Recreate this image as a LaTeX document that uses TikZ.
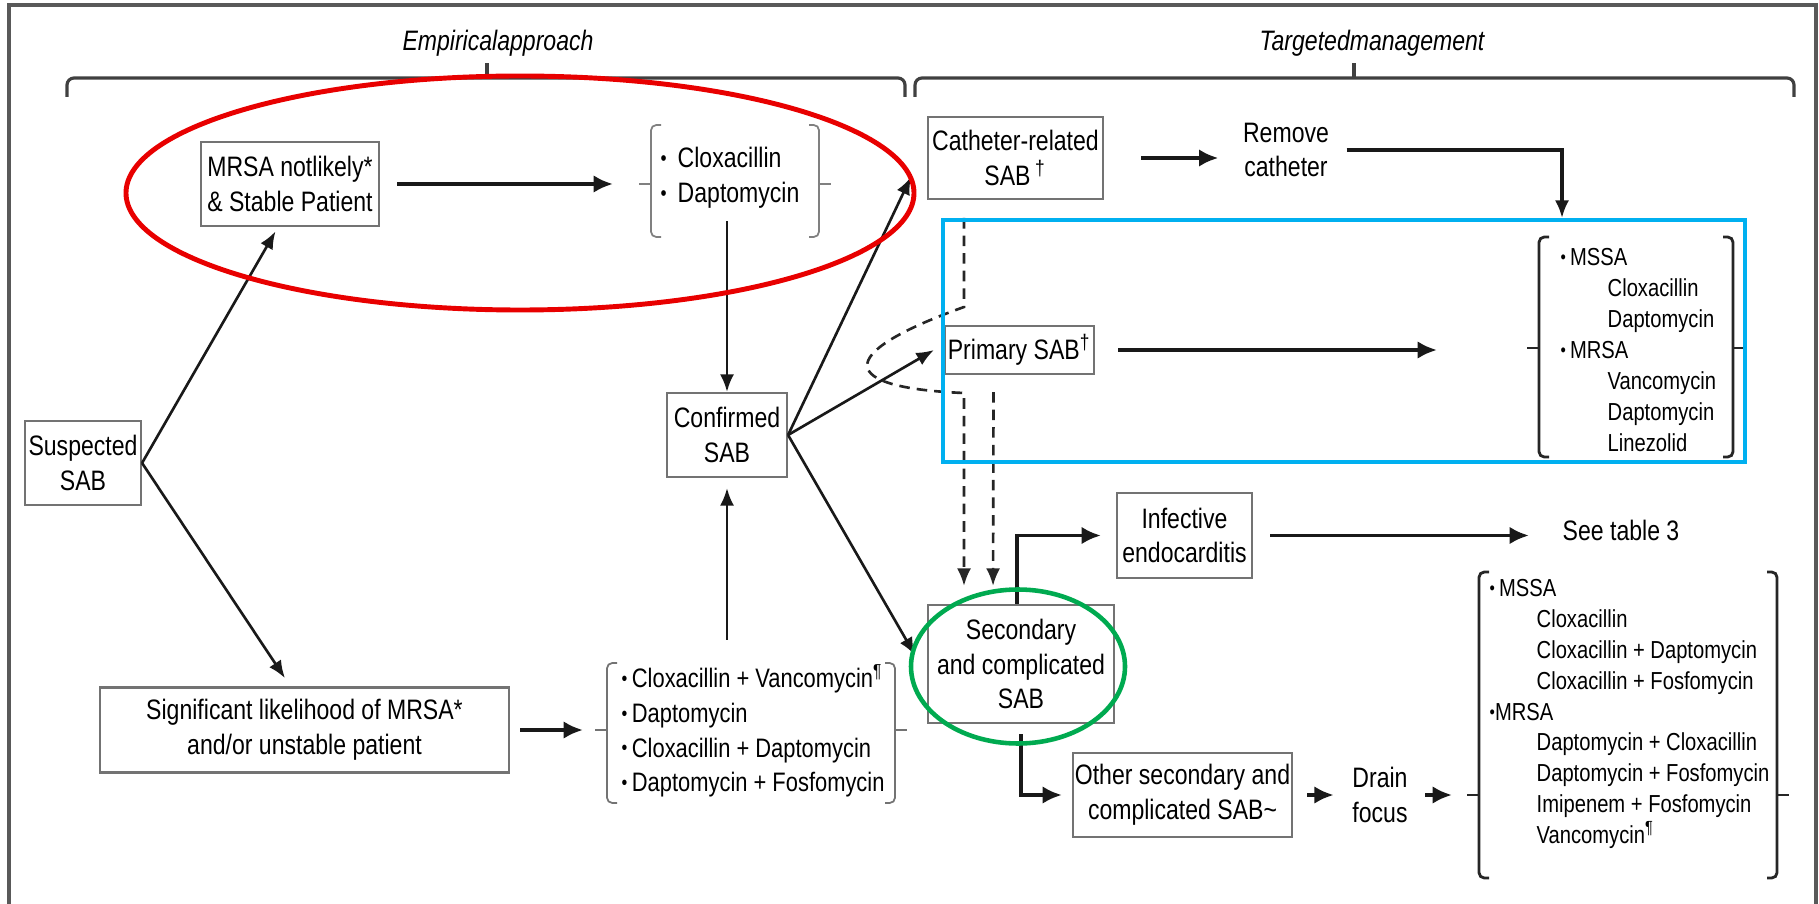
\documentclass[tikz,border=0pt]{standalone}
\usepackage{fontspec}
\usepackage{graphicx}
\setmainfont[FakeStretch=0.82]{Liberation Sans}
\usetikzlibrary{arrows.meta}
\definecolor{markred}{RGB}{232,0,0}
\definecolor{markblue}{RGB}{0,176,240}
\definecolor{markgreen}{RGB}{0,170,80}
\newcommand{\bul}{\raisebox{0.15ex}{\scalebox{0.75}{•}}}
\newcommand{\ind}{\hspace*{0.47cm}}
\tikzset{
  box/.style={draw=black!55, line width=0.6pt, align=center, inner sep=0pt, text=black},
  plain/.style={align=center, inner sep=0pt, text=black},
  arr/.style={-{Latex[length=5pt,width=4pt]}, line width=0.75pt, black!90},
  tharr/.style={-{Latex[length=5.5pt,width=5pt]}, line width=1.1pt, black!90},
  dashline/.style={-{Latex[length=5pt,width=4pt]}, line width=0.75pt, black!85, dash pattern=on 3pt off 2pt},
  brk/.style={rounded corners=1.5pt},
}
\begin{document}
\begin{tikzpicture}[font=\fontsize{8}{9.9}\selectfont]
	\useasboundingbox (0,0) rectangle (18.19,-9.04);
	\draw[line width=1pt, black!65] (0.09,-9.04) -- (0.09,-0.05) -- (18.16,-0.05) -- (18.16,-9.04);

            % headers
            \draw[line width=0.9pt, black!75, rounded corners=2pt] (0.67,-0.97) -- (0.67,-0.78) -- (9.05,-0.78) -- (9.05,-0.97);
            \draw[line width=0.9pt, black!75] (4.87,-0.78) -- (4.87,-0.63);
            \node[plain, font=\fontsize{8}{9.9}\selectfont\itshape] (hdemp) at (4.98,-0.43) {Empiricalapproach};
            \draw[line width=0.9pt, black!75, rounded corners=2pt] (9.15,-0.97) -- (9.15,-0.78) -- (17.94,-0.78) -- (17.94,-0.97);
            \draw[line width=0.9pt, black!75] (13.54,-0.78) -- (13.54,-0.63);
            \node[plain, font=\fontsize{8}{9.9}\selectfont\itshape] (hdtarg) at (13.72,-0.43) {Targetedmanagement};

            \node[box, minimum width=1.16cm, minimum height=0.84cm] (susp) at (0.83,-4.63) {Suspected\\SAB};
            \node[box, minimum width=1.78cm, minimum height=0.84cm] (notlik) at (2.90,-1.84) {MRSA notlikely*\\\& Stable Patient};
            \node[box, minimum width=4.09cm, minimum height=0.85cm] (signif) at (3.045,-7.30) {Significant likelihood of MRSA*\\and/or unstable patient};
            \node[box, minimum width=1.20cm, minimum height=0.84cm] (conf) at (7.27,-4.35) {Confirmed\\SAB};
            \node[box, minimum width=1.75cm, minimum height=0.82cm] (cath) at (10.155,-1.58) {Catheter-related\\SAB\,\textsuperscript{†}};
            \node[plain] (remcat) at (12.86,-1.50) {Remove\\catheter};
            \node[box, minimum width=1.49cm, minimum height=0.48cm] (prim) at (10.195,-3.50) {Primary SAB\textsuperscript{†}};
            \node[box, minimum width=1.86cm, minimum height=1.18cm] (sec) at (10.21,-6.64) {Secondary\\and complicated\\SAB};
            \node[box, minimum width=1.35cm, minimum height=0.85cm] (endo) at (11.845,-5.355) {Infective\\endocarditis};
            \node[plain] (seetab) at (16.21,-5.30) {See table 3};
            \node[box, minimum width=2.19cm, minimum height=0.84cm] (other) at (11.825,-7.95) {Other secondary and\\complicated SAB\textasciitilde};
            \node[plain] (drain) at (13.80,-7.95) {Drain\\focus};

            % drug lists
            \node[plain, align=left] (lregA) at (7.30,-1.78) {\bul\, Cloxacillin\\\bul\, Daptomycin};
            \node[plain, align=left, anchor=west, font=\fontsize{7.6}{9.9}\selectfont] (lregB) at (6.21,-7.31)
              {\bul\,Cloxacillin + Vancomycin\textsuperscript{¶}\\\bul\,Daptomycin\\\bul\,Cloxacillin + Daptomycin\\\bul\,Daptomycin + Fosfomycin};
            \node[plain, align=left, anchor=west, font=\fontsize{7}{8.8}\selectfont] (lregC) at (15.60,-3.50)
              {\bul\,MSSA\\\ind Cloxacillin\\\ind Daptomycin\\\bul\,MRSA\\\ind Vancomycin\\\ind Daptomycin\\\ind Linezolid};
            \node[plain, align=left, anchor=west, font=\fontsize{7}{8.8}\selectfont] (lregD) at (14.89,-7.14)
              {\bul\,MSSA\\\ind Cloxacillin\\\ind Cloxacillin + Daptomycin\\\ind Cloxacillin + Fosfomycin\\\bul MRSA\\\ind Daptomycin + Cloxacillin\\\ind Daptomycin + Fosfomycin\\\ind Imipenem + Fosfomycin\\\ind Vancomycin\textsuperscript{¶}};

            \foreach \xl/\xr/\yt/\yb/\ym/\nm/\cl/\lw in {6.51/8.19/-1.25/-2.37/-1.84/bA/black!50/0.5pt,
                                                    6.07/8.95/-6.63/-8.03/-7.30/bB/black!55/0.5pt,
                                                    15.39/17.33/-2.37/-4.57/-3.48/bC/black!85/0.8pt,
                                                    14.79/17.77/-5.72/-8.78/-7.95/bD/black!85/0.8pt}{
              \draw[brk, \cl, line width=\lw] ({\xl+0.1},\yt) -- (\xl,\yt) -- (\xl,\yb) -- ({\xl+0.1},\yb);
              \draw[brk, \cl, line width=\lw] ({\xr-0.1},\yt) -- (\xr,\yt) -- (\xr,\yb) -- ({\xr-0.1},\yb);
              \draw[\cl, line width=\lw] (\xl,\ym) -- ({\xl-0.12},\ym);
              \draw[\cl, line width=\lw] (\xr,\ym) -- ({\xr+0.12},\ym);
              \coordinate (\nm-l) at ({\xl-0.12},\ym);
              \coordinate (\nm-r) at ({\xr+0.12},\ym);
            }

            % connectors
            \draw[arr, shorten >=0.05cm] (susp.east) -- ([xshift=-0.12cm]notlik.south);
            \draw[arr, shorten >=0.1cm] (susp.east) -- ([xshift=-0.14cm]signif.north);
            \draw[tharr, shorten <=0.17cm, shorten >=0.26cm] (notlik.east) -- (bA-l);
            \draw[tharr, shorten <=0.1cm, shorten >=0.12cm] (signif.east) -- (bB-l);
            \draw[arr, shorten <=0.12cm] (conf.north |- lregA.south) -- (conf.north);
            \draw[arr, shorten >=0.1cm] ([yshift=0.24cm]conf.south |- lregB.north) -- (conf.south);
            \draw[arr] (conf.east) -- ([shift={(-0.16,-0.19)}]cath.west);
            \draw[arr] (conf.east) -- ([xshift=-0.1cm]prim.west);
            \draw[arr] (conf.east) -- ([shift={(-0.12,0.09)}]sec.west);
            \draw[tharr, shorten <=0.37cm, shorten >=0.24cm] (cath.east) -- (cath.east -| remcat.west);
            \coordinate (bluetop) at (15.62,-2.18);
            \draw[arr, line width=0.9pt] ([xshift=0.17cm]remcat.east) -| (bluetop);
            \draw[tharr, shorten <=0.23cm, shorten >=0.9cm] (prim.east) -- (prim.east -| bC-l);
            \draw[tharr, shorten >=0.15cm] ([xshift=-0.04cm]sec.north) |- (endo.west);
            \draw[tharr, shorten <=0.17cm, shorten >=0.33cm] (endo.east) -- (endo.east -| seetab.west);
            \draw[tharr, shorten <=0.1cm, shorten >=0.1cm] (sec.south) |- (other.west);
            \draw[tharr, shorten <=0.14cm, shorten >=0.18cm] (other.east) -- (drain.west);
            \draw[tharr, shorten <=0.17cm, shorten >=0.15cm] (drain.east) -- (bD-l);

            \coordinate (dtop) at (9.64,-2.18);
            \draw[dashline, shorten >=0.18cm] (dtop) -- (9.64,-3.07) .. controls (8.30,-3.55) and (8.40,-3.88) .. (9.64,-3.93) -- (sec.north -| dtop);
            \draw[dashline, shorten >=0.18cm] ([shift={(-0.26,-0.17)}]prim.south) -- ([xshift=-0.28cm]sec.north);

            % highlight marks
            \draw[markred, line width=1.4pt] (5.20,-1.93) ellipse [x radius=3.94, y radius=1.17];
            \draw[markblue, line width=1.4pt] (9.43,-2.20) rectangle (17.45,-4.62);
            \draw[markgreen, line width=1.3pt] (10.18,-6.665) ellipse [x radius=1.07, y radius=0.77];
\end{tikzpicture}
\end{document}
